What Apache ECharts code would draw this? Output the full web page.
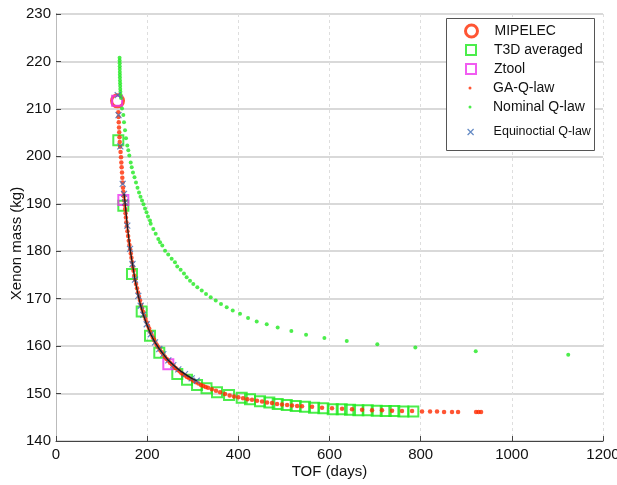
<!DOCTYPE html>
<html>
<head>
<meta charset="utf-8">
<script src="https://cdn.jsdelivr.net/npm/echarts@6/dist/echarts.min.js"></script>
<style>
  html, body { margin: 0; padding: 0; background: #fff; }
  #chart { width: 617px; height: 485px; }
</style>
</head>
<body>
<div id="chart"></div>
<script>
// values: TOF (days) and Xenon mass (kg)
const mipelecTof = [135];
const mipelecMass = [211.7];

const t3dTof = [136.7, 147.7, 166.7, 188.0, 206.2, 226.6, 266.1, 287.4, 309.4, 330.2, 353.2, 379.6,
  407.4, 425.6, 447.6, 468.0, 486.4, 506.2, 525.9, 546.3, 566.1, 586.5, 607.1, 626.8, 645.0, 663.3,
  683.9, 703.6, 723.4, 742.2, 762.0, 783.9];
const t3dMass = [203.4, 189.6, 175.2, 167.3, 162.2, 158.6, 154.1, 152.9, 151.8, 151.1, 150.3, 149.7,
  149.1, 148.8, 148.4, 148.1, 147.8, 147.6, 147.4, 147.2, 147.0, 146.9, 146.7, 146.7, 146.6, 146.5,
  146.5, 146.4, 146.3, 146.3, 146.2, 146.2];

const ztoolTof = [134, 147.7, 246.4];
const ztoolMass = [211.7, 190.8, 156.2];

const gaTof = [136.7, 137.2, 137.7, 138.2, 138.7, 139.3, 139.8, 140.6, 141.6, 142.6, 143.3, 144.0, 144.8,
  145.5, 146.2, 147.0, 148.0, 148.9, 149.9, 150.7, 151.6, 152.5, 153.4, 154.3, 155.3, 156.7, 158.2, 159.7,
  161.1, 162.6, 164.1, 165.5, 167.0, 168.5, 170.1, 171.7, 173.3, 175.5, 177.7, 179.9, 182.1, 184.3, 186.5,
  188.9, 191.3, 193.7, 196.4, 199.1, 201.8, 204.4, 206.9, 209.5, 212.4, 215.4, 218.3, 221.6, 224.9, 228.2,
  231.9, 235.5, 239.2, 242.8, 246.5, 250.1, 254.1, 258.2, 262.2, 266.6, 270.9, 275.3, 279.3, 283.4, 287.4,
  292.2, 296.9, 301.7, 307.2, 312.6, 318.1, 323.2, 328.4, 333.5, 342, 351, 360, 370.8, 381, 390.5, 400,
  410.3, 420, 430, 441, 452, 463, 473.9, 485, 495.8, 507, 517.8, 529, 539.7, 561.7, 583.6, 605.5, 627.5,
  649.4, 671.4, 693.3, 715.2, 737.2, 759.1, 781.1, 803.0, 820.6, 835.9, 851.3, 868.8, 882.0, 921.5, 927.0,
  932.5];
const gaMass = [209.3, 208.3, 207.2, 206.1, 205.1, 204.0, 203.0, 202.0, 200.9, 199.8, 198.7, 197.7, 196.6,
  195.5, 194.5, 193.4, 192.5, 191.6, 190.7, 189.8, 188.9, 188.0, 187.1, 186.1, 185.2, 184.2, 183.2, 182.2,
  181.3, 180.4, 179.5, 178.6, 177.7, 176.8, 175.9, 174.9, 174.0, 173.1, 172.2, 171.3, 170.4, 169.6, 168.7,
  167.9, 167.2, 166.4, 165.7, 165.0, 164.3, 163.7, 163.0, 162.4, 161.8, 161.3, 160.7, 160.2, 159.7, 159.2,
  158.7, 158.2, 157.7, 157.3, 156.9, 156.5, 156.1, 155.8, 155.4, 155.0, 154.7, 154.3, 154.0, 153.8, 153.5,
  153.2, 153.0, 152.7, 152.4, 152.1, 151.8, 151.6, 151.4, 151.2, 150.9, 150.6, 150.3, 149.9, 149.6, 149.4,
  149.2, 149.0, 148.8, 148.7, 148.5, 148.3, 148.1, 148.0, 147.8, 147.7, 147.6, 147.5, 147.4, 147.3, 147.2,
  147.0, 146.9, 146.8, 146.7, 146.6, 146.5, 146.5, 146.4, 146.3, 146.3, 146.2, 146.2, 146.2, 146.1, 146.1,
  146.1, 146.1, 146.1, 146.1];

const nominalTof = [139.5, 139.6, 139.7, 139.8, 139.9, 140.0, 140.1, 140.2, 140.4, 140.6, 140.8, 141.0,
  141.3, 141.6, 142.6, 144.8, 147.7, 149.2, 151.4, 153.6, 156.4, 158.6, 160.8, 163.9, 166.1, 168.9, 172.2,
  175.5, 178.8, 182.1, 185.4, 188.7, 192.0, 195.3, 198.6, 201.8, 206.2, 207.7, 213.5, 218.7, 224.4, 228.2,
  233.2, 239.2, 246.2, 253.7, 261.0, 266.0, 273.4, 280.7, 286.6, 294.0, 301.2, 310.0, 319.7, 329.1, 339.4,
  350.4, 362.0, 374.5, 387.7, 403.7, 421.3, 440.3, 462.3, 486.3, 516.3, 548.6, 588.8, 637.9, 704.9, 788.3,
  920.8, 1123.7];
const nominalMass = [220.8, 220.2, 219.6, 219.0, 218.4, 217.8, 217.2, 216.6, 216.0, 215.4, 214.8, 214.2,
  213.6, 213.0, 212.3, 210.1, 208.7, 207.2, 205.5, 203.8, 202.3, 201.3, 200.2, 198.7, 197.7, 196.6, 195.6,
  194.5, 193.4, 192.4, 191.5, 190.7, 189.9, 189.0, 188.2, 187.3, 186.5, 185.8, 184.7, 183.7, 182.6, 181.9,
  181.2, 180.1, 179.3, 178.4, 177.7, 176.8, 176.1, 175.3, 174.5, 173.8, 173.1, 172.4, 171.7, 171.0, 170.3,
  169.6, 168.9, 168.2, 167.5, 166.8, 165.9, 165.2, 164.6, 163.9, 163.2, 162.4, 161.7, 161.1, 160.4, 159.7,
  158.9, 158.2];

const equiTof = [135.4, 137.1, 141.1, 146.3, 149.2, 151.4, 156.4, 162.4, 167.8, 173.3, 180.6, 185.8, 191.5,
  199.0, 207.8, 217.2, 226.6, 235.4, 246.4, 257.4, 268.3, 283.0, 297.7, 308.7];
const equiMass = [212.9, 208.7, 202.1, 194.2, 192.1, 190.3, 185.4, 180.5, 177.3, 174.0, 170.6, 168.5, 166.6,
  164.6, 162.5, 160.8, 159.4, 158.3, 157.0, 156.0, 155.1, 154.1, 153.2, 152.7];

const pairs = (xs, ys) => xs.map((x, i) => [x, ys[i]]);

const FONT = "'Liberation Sans', Arial, sans-serif";
const crossPath = 'path://M0,0L10,10M10,0L0,10';

const RED = '#ff2a00';
const GREEN = '#1fe81f';
const MAGENTA = '#ee33ee';
const BLUE = '#3d6db5';

// one legend per entry so each icon keeps its own size
function legendItem(name, yc, size, icon, itemStyle, fontSize) {
  return {
    orient: 'vertical',
    left: 470 - size / 2,
    top: yc - 8,
    padding: 0,
    z: 20,
    itemWidth: size,
    itemHeight: size,
    selectedMode: false,
    data: [{ name: name, icon: icon, itemStyle: itemStyle }],
    textStyle: {
      fontFamily: FONT, fontSize: fontSize || 14, color: '#111', lineHeight: 16,
      padding: [0, 0, 0, 493 - (470 + size / 2 + 5)]
    }
  };
}

const chart = echarts.init(document.getElementById('chart'));
chart.setOption({
  animation: false,
  backgroundColor: '#fff',
  grid: { left: 56, right: 14, top: 14, bottom: 44, outerBoundsMode: 'none', containLabel: false },
  xAxis: {
    type: 'value', min: 0, max: 1200, interval: 200,
    name: 'TOF (days)', nameLocation: 'middle', nameGap: 23, nameMoveOverlap: false,
    nameTextStyle: { fontFamily: FONT, fontSize: 15, color: '#111' },
    axisLine: { onZero: false, lineStyle: { color: '#444' } },
    axisTick: { inside: true, length: 5, lineStyle: { color: '#444' } },
    axisLabel: { fontFamily: FONT, fontSize: 15, color: '#111', margin: 6, formatter: v => String(v) },
    splitLine: { show: true, lineStyle: { color: '#dedede', type: [3, 3], width: 1 } }
  },
  yAxis: [{
    type: 'value', min: 140, max: 230, interval: 10,
    name: 'Xenon mass (kg)', nameLocation: 'middle', nameGap: 32, nameMoveOverlap: false,
    nameTextStyle: { fontFamily: FONT, fontSize: 15, color: '#111', padding: [0, 32, 0, 0] },
    axisLine: { show: true, onZero: false, lineStyle: { color: '#444' } },
    axisTick: { show: true, inside: true, length: 5, lineStyle: { color: '#444' } },
    axisLabel: { fontFamily: FONT, fontSize: 15, color: '#111', margin: 5, formatter: v => String(v) },
    splitLine: { show: true, lineStyle: { color: '#cccccc', width: 1.5 } }
  }, {
    type: 'value', min: 140, max: 230, position: 'right',
    axisLine: { show: true, lineStyle: { color: '#bbbbbb' } },
    axisTick: { show: false }, axisLabel: { show: false }, splitLine: { show: false }
  }],
  graphic: [{
    type: 'rect', left: 446, top: 18, z: 5,
    shape: { width: 148, height: 132 },
    style: { fill: '#fff', stroke: '#555', lineWidth: 1 }
  }],
  legend: [
    legendItem('MIPELEC', 31, 12, 'circle', { color: 'transparent', borderColor: RED, borderWidth: 3 }),
    legendItem('T3D averaged', 50, 10, 'rect', { color: 'transparent', borderColor: GREEN, borderWidth: 2 }),
    legendItem('Ztool', 69, 10, 'rect', { color: 'transparent', borderColor: MAGENTA, borderWidth: 2 }),
    legendItem('GA-Q-law', 88, 3, 'circle', { color: RED, borderWidth: 0 }),
    legendItem('Nominal Q-law', 107, 3, 'circle', { color: GREEN, borderWidth: 0 }),
    legendItem('Equinoctial Q-law', 132, 6, crossPath, { color: 'transparent', borderColor: BLUE, borderWidth: 1.2 }, 12.5)
  ],
  series: [
    {
      name: 'MIPELEC', type: 'scatter', symbol: 'circle', symbolSize: 12,
      data: pairs(mipelecTof, mipelecMass),
      itemStyle: { color: 'transparent', borderColor: RED, borderWidth: 3 }, silent: true
    },
    {
      name: 'T3D averaged', type: 'scatter', symbol: 'rect', symbolSize: 10,
      data: pairs(t3dTof, t3dMass),
      itemStyle: { color: 'transparent', borderColor: GREEN, borderWidth: 2 }, silent: true
    },
    {
      name: 'Ztool', type: 'scatter', symbol: 'rect', symbolSize: 10,
      data: pairs(ztoolTof, ztoolMass),
      itemStyle: { color: 'transparent', borderColor: MAGENTA, borderWidth: 2 }, silent: true
    },
    {
      name: 'GA-Q-law', type: 'scatter', symbol: 'circle', symbolSize: 4.5,
      data: pairs(gaTof, gaMass),
      itemStyle: { color: RED }, silent: true
    },
    {
      name: 'Nominal Q-law', type: 'scatter', symbol: 'circle', symbolSize: 4,
      data: pairs(nominalTof, nominalMass),
      itemStyle: { color: GREEN }, silent: true
    },
    {
      name: 'equinoctial-line', type: 'line', showSymbol: false,
      data: pairs(equiTof, equiMass).slice(4),
      lineStyle: { color: '#1e1e1e', width: 1.3 }, silent: true
    },
    {
      name: 'Equinoctial Q-law', type: 'scatter', symbol: crossPath, symbolSize: 6,
      data: pairs(equiTof, equiMass),
      itemStyle: { color: 'transparent', borderColor: BLUE, borderWidth: 1.2 }, silent: true
    }
  ]
});
</script>
</body>
</html>
